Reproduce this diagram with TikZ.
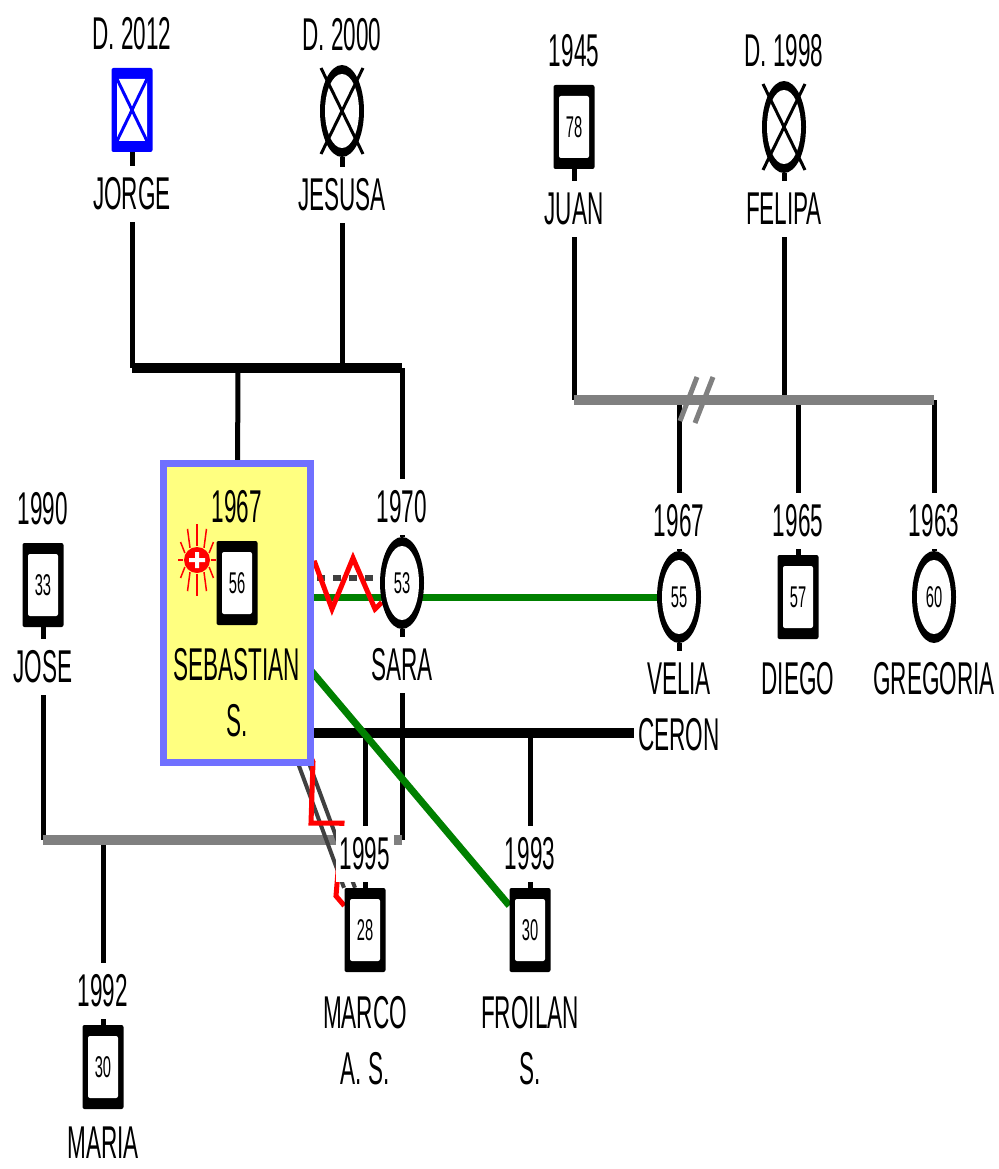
\documentclass[tikz,border=0pt]{standalone}
\usepackage{fontspec}
\setmainfont{Liberation Sans}[FakeStretch=0.49]
\usetikzlibrary{shapes.geometric,positioning,backgrounds}

\definecolor{hlfill}{RGB}{255,255,128}
\definecolor{hlline}{RGB}{112,112,255}
\definecolor{tiegreen}{RGB}{0,128,0}
\definecolor{bargrey}{RGB}{128,128,128}
\definecolor{tiegrey}{RGB}{64,64,64}

\begin{document}
\begin{tikzpicture}[x=1pt, y=-1pt,
    font=\fontsize{46}{56}\selectfont,
    node distance=76pt,
    person/.style={inner sep=0pt, fill=black, font=\fontsize{30}{32}\selectfont},
    male/.style={person, rectangle, rounded corners=2pt, minimum width=41pt, minimum height=84pt,
        path picture={\fill[white] ([xshift=5.5pt,yshift=-11pt]path picture bounding box.north west)
            rectangle ([xshift=-5.5pt,yshift=11pt]path picture bounding box.south east);}},
    female/.style={person, ellipse, minimum width=44pt, minimum height=92pt,
        path picture={\fill[white] (path picture bounding box.center) ellipse (17pt and 37pt);}},
    txt/.style={on grid, fill=white, inner xsep=4pt, inner ysep=12pt, align=center},
    hlbox/.style={draw=hlline, fill=hlfill, line width=7pt, minimum width=147pt, minimum height=299pt, inner sep=0pt},
    sun/.style={circle, fill=red, minimum size=26pt, inner sep=0pt,
        path picture={\fill[white] ([xshift=-8pt,yshift=-2pt]path picture bounding box.center) rectangle ([xshift=8pt,yshift=2pt]path picture bounding box.center)
            ([xshift=-2pt,yshift=-8pt]path picture bounding box.center) rectangle ([xshift=2pt,yshift=8pt]path picture bounding box.center);}},
    deadx/.style={draw, line width=3pt},
    kidline/.style={draw, black, line width=5pt},
    mbar/.style={draw, black, line width=10pt},
    exbar/.style={draw, bargrey, line width=10pt},
    exmark/.style={draw, bargrey, line width=5pt},
    closetie/.style={draw, tiegreen, line width=7pt},
    hostile/.style={draw, red, line width=5pt},
    dating/.style={draw, tiegrey, line width=6pt, dash pattern=on 8pt off 8pt},
    distant/.style={draw, tiegrey, line width=4pt}]

\useasboundingbox (0,0) rectangle (998,1169);

\node[hlbox] (hl) at (237,613) {};

\node[male, fill=blue] (jorge) at (132,110) {};
\node[female] (jesusa) at (342,111) {};
\node[male] (juan) at (574,127) {78};
\node[female] (felipa) at (784,127) {};
\node[male] (jose) at (43,585) {33};
\node[male] (sebastian) at (237,583) {56};
\node[female] (sara) at (402,583) {53};
\node[female] (velia) at (679,597) {55};
\node[male] (diego) at (798,597) {57};
\node[female] (gregoria) at (934,597) {60};
\node[male] (marco) at (365,930) {28};
\node[male] (froilan) at (530,930) {30};
\node[male] (maria) at (103,1067) {30};

\node[txt, above=of jorge] (jorge-yr) {D. 2012};
\node[txt, below=84pt of jorge] (jorge-nm) {JORGE};
\node[txt, above=of jesusa] (jesusa-yr) {D. 2000};
\node[txt, below=84pt of jesusa] (jesusa-nm) {JESUSA};
\node[txt, above=of juan] (juan-yr) {1945};
\node[txt, below=82pt of juan] (juan-nm) {JUAN};
\node[txt, above=of felipa] (felipa-yr) {D. 1998};
\node[txt, below=82pt of felipa] (felipa-nm) {FELIPA};
\node[txt, above=of jose] (jose-yr) {1990};
\node[txt, below=82pt of jose] (jose-nm) {JOSE};
\node[txt, fill=none, above=of sebastian] (sebastian-yr) {1967};
\node[txt, fill=none, below=110pt of sebastian] (sebastian-nm) {SEBASTIAN\\S.};
\node[txt, above=of sara] (sara-yr) {1970};
\node[txt, below=82pt of sara] (sara-nm) {SARA};
\node[txt, above=of velia] (velia-yr) {1967};
\node[txt, below=110pt of velia] (velia-nm) {VELIA\\CERON};
\node[txt, above=of diego] (diego-yr) {1965};
\node[txt, below=82pt of diego] (diego-nm) {DIEGO};
\node[txt, above=of gregoria] (gregoria-yr) {1963};
\node[txt, below=82pt of gregoria] (gregoria-nm) {GREGORIA};
\node[txt, above=of marco] (marco-yr) {1995};
\node[txt, below=111pt of marco] (marco-nm) {MARCO\\A. S.};
\node[txt, above=of froilan] (froilan-yr) {1993};
\node[txt, below=111pt of froilan] (froilan-nm) {FROILAN\\S.};
\node[txt, above=of maria] (maria-yr) {1992};
\node[txt, inner ysep=1pt, below=76pt of maria] (maria-nm) {MARIA};

% deceased
\draw[deadx, blue] ([shift={(-15pt,31pt)}]jorge.center) -- ([shift={(15pt,-31pt)}]jorge.center)
    ([shift={(15pt,31pt)}]jorge.center) -- ([shift={(-15pt,-31pt)}]jorge.center);
\draw[deadx] ([shift={(-21pt,43pt)}]jesusa.center) -- ([shift={(21pt,-43pt)}]jesusa.center)
    ([shift={(21pt,43pt)}]jesusa.center) -- ([shift={(-21pt,-43pt)}]jesusa.center);
\draw[deadx] ([shift={(-21pt,43pt)}]felipa.center) -- ([shift={(21pt,-43pt)}]felipa.center)
    ([shift={(21pt,43pt)}]felipa.center) -- ([shift={(-21pt,-43pt)}]felipa.center);

% illness mark
\node[sun] (sebastian-ic) at (197,560) {};
\foreach \a in {0,30,...,330}
  \draw[red, line width=1.5pt] ([shift={(\a:14pt)}]sebastian-ic.center) -- ([shift={(\a:19pt and 36pt)}]sebastian-ic.center);

\coordinate (m1) at (238,368);
\coordinate (m2) at (679,400);
\coordinate (m3) at (103,840);
\coordinate (m4) at (365,733);

\begin{scope}[on background layer]
\draw[kidline] (jorge) -- (jorge |- m1);
\draw[kidline] (jesusa) -- (jesusa |- m1);
\draw[kidline] (m1) -- (sebastian);
\draw[kidline] (sara |- m1) -- (sara);
\draw[mbar] (jorge |- m1) -- (sara |- m1);
\draw[kidline] (juan) -- (juan |- m2);
\draw[kidline] (felipa) -- (felipa |- m2);
\draw[kidline] (m2) -- (velia);
\draw[kidline] (diego |- m2) -- (diego);
\draw[kidline] (gregoria |- m2) -- (gregoria);
\draw[exbar] (juan |- m2) -- (gregoria |- m2);
\draw[exmark] (697,377) -- (680,421) (713,377) -- (695,423);
\draw[kidline] (jose) -- (jose |- m3);
\draw[kidline] (sara) -- (sara |- m3);
\draw[kidline] (m3) -- (maria);
\draw[exbar] (jose |- m3) -- (sara |- m3);
\draw[kidline] (velia) -- (velia |- m4);
\draw[kidline] (m4) -- (marco);
\draw[kidline] (froilan |- m4) -- (froilan);
\draw[mbar] (velia |- m4) -- (sebastian |- m4);
\draw[distant, transform canvas={xshift=-5.5pt}] (sebastian) -- (marco);
\draw[distant, transform canvas={xshift=5.5pt}] (sebastian) -- (marco);
\draw[closetie] (sebastian |- velia) -- (velia);
\draw[closetie] (sebastian) -- (froilan);
\draw[dating] ([yshift=5pt]sebastian.center) -- ([yshift=5pt]sara.center);
\draw[hostile] (sebastian) -- (315,563) -- (332,609) -- (353,558) -- (375,609) -- (sara);
\draw[hostile] (sebastian) -- (313,762) -- (311,823) -- (342,823) -- (336,896) -- (marco);
\end{scope}

\end{tikzpicture}
\end{document}
